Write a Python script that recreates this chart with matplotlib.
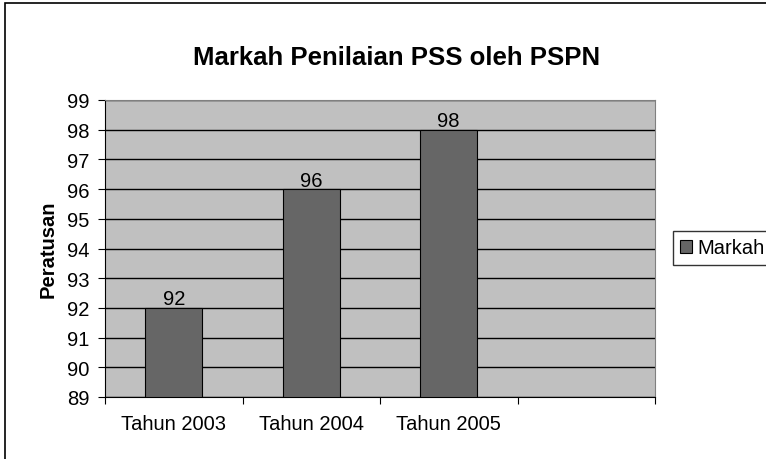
import matplotlib.pyplot as plt
from matplotlib.patches import Rectangle

# Data
categories = ['Tahun 2003', 'Tahun 2004', 'Tahun 2005', '']
values = [92, 96, 98]
series_name = 'Markah'

plt.rcParams['font.family'] = ['Liberation Sans', 'DejaVu Sans']
fs = 14.5

W, H = 766, 460
fig = plt.figure(figsize=[W / 100, H / 100], dpi=100)

# Outer chart border (right and bottom edges run off the picture)
fig.patches.append(Rectangle((5 / W, -0.05), 1.0, 1.05 - 4 / H, transform=fig.transFigure,
                             fill=False, edgecolor='black', linewidth=1.2))

# Plot area
left, right, top, bottom = 105, 655, 101, 398
ax = fig.add_axes([left / W, 1 - bottom / H, (right - left) / W, (bottom - top) / H])
ax.set_facecolor('#c0c0c0')

x = range(len(values))
bars = ax.bar(x, [v - 89 for v in values], bottom=89, width=0.415,
              color='#666666', edgecolor='black', linewidth=0.8, label=series_name,
              zorder=3)
for xi, v in zip(x, values):
    ax.annotate(str(v), (xi, v), xytext=(0, 2.5), textcoords='offset points',
                ha='center', va='baseline', fontsize=fs)

ax.set_xlim(-0.5, len(categories) - 0.5)
ax.set_ylim(89, 99)
ax.set_yticks(range(89, 100))
ax.yaxis.grid(True, color='black', linewidth=1.0, zorder=1)
ax.set_axisbelow(True)

ax.set_xticks([i - 0.5 for i in range(len(categories) + 1)])
ax.set_xticklabels([])
ax.set_xticks(range(len(categories)), minor=True)
ax.set_xticklabels(categories, minor=True, fontsize=fs)
ax.tick_params(axis='x', which='minor', length=0, pad=12)
ax.tick_params(axis='x', which='major', length=5, direction='out')
ax.tick_params(axis='y', length=5, direction='out', labelsize=fs, pad=6)

for s in ['top', 'right']:
    ax.spines[s].set_color('#808080')
for s in ['left', 'bottom']:
    ax.spines[s].set_color('black')

ax.set_ylabel('Peratusan', fontsize=fs, fontweight='bold', labelpad=7)

fig.text(397 / W, 1 - 58 / H, 'Markah Penilaian PSS oleh PSPN',
         ha='center', va='center', fontsize=18.5, fontweight='bold')

leg = fig.legend(handles=[bars], labels=[series_name], loc='center left',
                 bbox_to_anchor=(673 / W, 1 - 249 / H), fontsize=fs, frameon=True,
                 fancybox=False, edgecolor='black', handlelength=0.6, handleheight=0.6,
                 handletextpad=0.25, borderpad=0.35, borderaxespad=0)
leg.get_frame().set_linewidth(1.0)

plt.savefig('out.png', dpi=100)
